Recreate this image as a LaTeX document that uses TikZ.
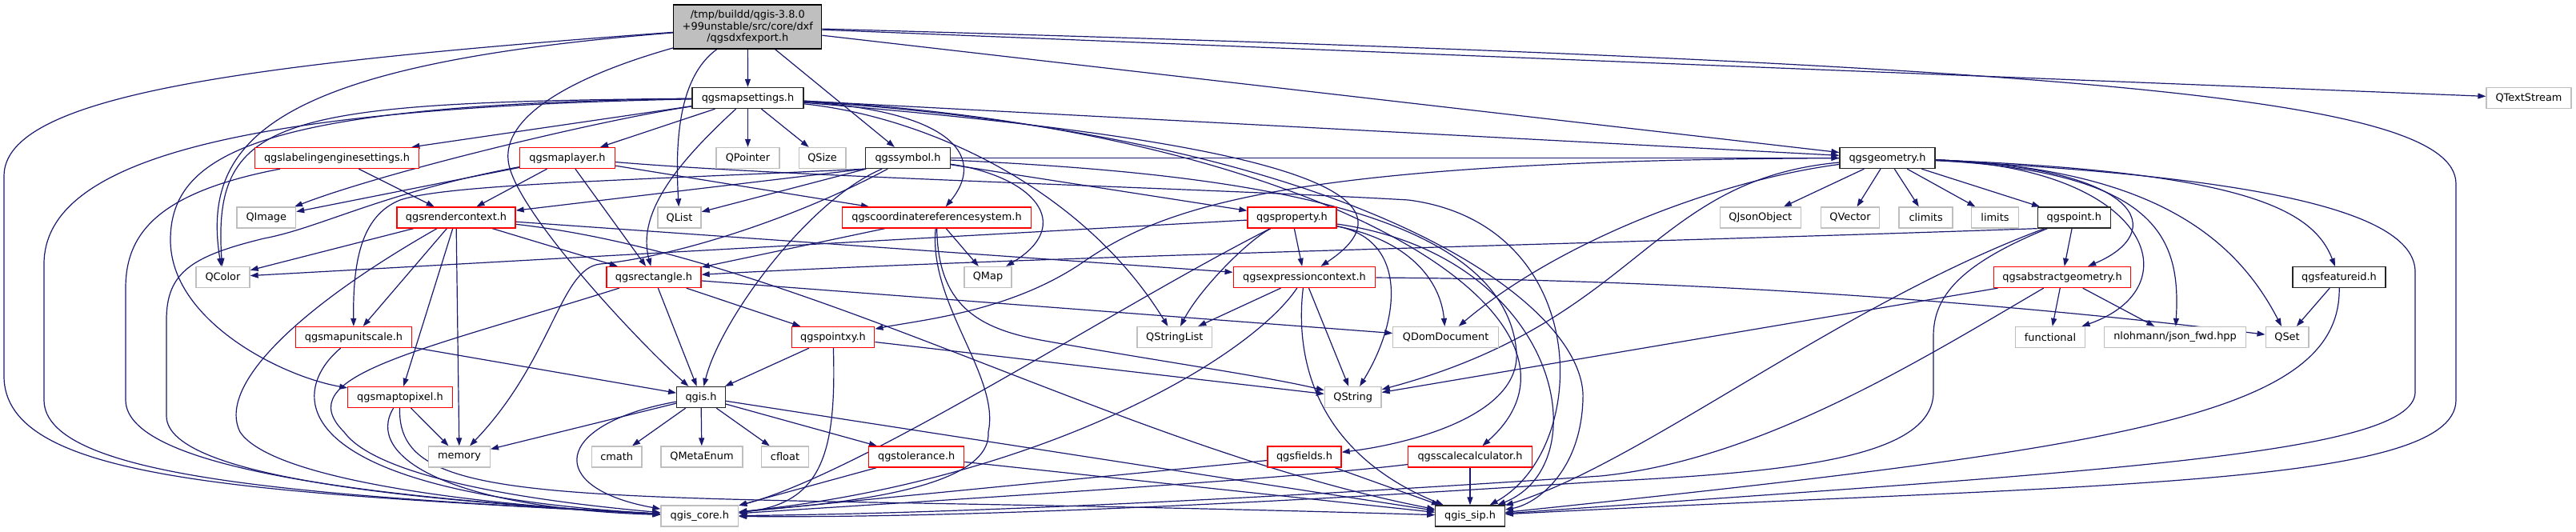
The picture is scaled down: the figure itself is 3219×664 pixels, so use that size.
\documentclass[tikz,border=0pt]{standalone}
\usepackage{fontspec}
\setmainfont{DejaVu Sans}
\usepackage{xcolor}
\definecolor{depblue}{HTML}{191970}
\definecolor{truncred}{HTML}{FF0000}
\definecolor{extgray}{HTML}{BFBFBF}
\usepackage{tikz}
\usetikzlibrary{arrows.meta,backgrounds}

\begin{document}
\begin{tikzpicture}[x=1pt, y=-1pt,
                   hdr/.style={draw, fill=white, line width=1.3pt, inner sep=0pt, minimum height=26pt,
                               font=\fontsize{12.9}{14.5}\selectfont, align=center},
                   root/.style={hdr, fill=extgray, draw=black, minimum height=55pt},
                   doc/.style={hdr, draw=black!85},
                   trunc/.style={hdr, draw=truncred},
                   ext/.style={hdr, draw=extgray},
                   dep/.style={draw=depblue, line width=1.2pt, -{Triangle[length=10pt, width=7pt]}}]
    \useasboundingbox (0,0) rectangle (3219,664);
    \node[root, minimum width=185pt] (dxf) at (934.3,33.5) {/tmp/buildd/qgis-3.8.0\\+99unstable/src/core/dxf\\/qgsdxfexport.h};
    \node[doc, minimum width=139pt] (mapset) at (934.5,122.5) {qgsmapsettings.h};
    \node[ext, minimum width=106pt] (textstream) at (3160,122.5) {QTextStream};
    \node[trunc, minimum width=205pt] (labeling) at (421,197.5) {qgslabelingenginesettings.h};
    \node[trunc, minimum width=119pt] (maplayer) at (709,197.5) {qgsmaplayer.h};
    \node[ext, minimum width=79pt] (qpointer) at (934.5,197.5) {QPointer};
    \node[ext, minimum width=58.6pt] (qsize) at (1027.6,197.5) {QSize};
    \node[doc, minimum width=105.7pt] (symbol) at (1134.5,197.5) {qgssymbol.h};
    \node[doc, minimum width=119pt] (geometry) at (2358.5,197.5) {qgsgeometry.h};
    \node[ext, minimum width=73.5pt] (qimage) at (332.8,272) {QImage};
    \node[trunc, minimum width=148pt] (rendctx) at (570,272) {qgsrendercontext.h};
    \node[ext, minimum width=54pt] (qlist) at (849,272) {QList};
    \node[trunc, minimum width=235.6pt] (crs) at (1170.5,272) {qgscoordinatereferencesystem.h};
    \node[trunc, minimum width=111pt] (property) at (1614.5,272) {qgsproperty.h};
    \node[ext, minimum width=101pt] (qjson) at (2199.8,272) {QJsonObject};
    \node[ext, minimum width=73.4pt] (qvector) at (2312,272) {QVector};
    \node[ext, minimum width=67pt] (climits) at (2406.6,272) {climits};
    \node[ext, minimum width=58.5pt] (limits) at (2493,272) {limits};
    \node[doc, minimum width=91pt] (point) at (2591.8,272) {qgspoint.h};
    \node[ext, minimum width=67pt] (qcolor) at (278.5,346.5) {QColor};
    \node[trunc, minimum width=118pt] (rect) at (817,346.5) {qgsrectangle.h};
    \node[ext, minimum width=59pt] (qmap) at (1234.5,346.5) {QMap};
    \node[trunc, minimum width=177.6pt] (exprctx) at (1630,346.5) {qgsexpressioncontext.h};
    \node[trunc, minimum width=171.5pt] (absgeom) at (2577,346.5) {qgsabstractgeometry.h};
    \node[doc, minimum width=116pt] (featid) at (2923,346.5) {qgsfeatureid.h};
    \node[trunc, minimum width=145.5pt] (unitscale) at (442,421.5) {qgsmapunitscale.h};
    \node[trunc, minimum width=103.6pt] (pointxy) at (1041,421.5) {qgspointxy.h};
    \node[ext, minimum width=93.5pt] (qstringlist) at (1467.8,421.5) {QStringList};
    \node[ext, minimum width=131.6pt] (qdomdoc) at (1806.6,421.5) {QDomDocument};
    \node[ext, minimum width=86.7pt] (functional) at (2562,421.5) {functional};
    \node[ext, minimum width=177.4pt] (nlohmann) at (2718,421.5) {nlohmann/json\_fwd.hpp};
    \node[ext, minimum width=53.7pt] (qset) at (2858,421.5) {QSet};
    \node[trunc, minimum width=130.4pt] (maptopixel) at (500,496.5) {qgsmaptopixel.h};
    \node[doc, minimum width=60.6pt] (qgis) at (876,496.5) {qgis.h};
    \node[ext, minimum width=70.6pt] (qstring) at (1690.7,496.5) {QString};
    \node[ext, minimum width=76.7pt] (memory) at (574,571) {memory};
    \node[ext, minimum width=62.6pt] (cmath) at (770.7,571) {cmath};
    \node[ext, minimum width=102pt] (qmetaenum) at (877,571) {QMetaEnum};
    \node[ext, minimum width=59pt] (cfloat) at (981,571) {cfloat};
    \node[trunc, minimum width=118.8pt] (tolerance) at (1145.2,571) {qgstolerance.h};
    \node[trunc, minimum width=92pt] (fields) at (1630,571) {qgsfields.h};
    \node[trunc, minimum width=154.6pt] (scalecalc) at (1837,571) {qgsscalecalculator.h};
    \node[ext, minimum width=96.6pt] (core) at (874.3,645) {qgis\_core.h};
    \node[doc, minimum width=86.4pt] (sip) at (1837,645) {qgis\_sip.h};
    \begin{pgfonlayer}{background}
    \draw[dep] (dxf) -- (mapset);
    \draw[dep] (dxf) .. controls (850,95) and (843,170) .. (qlist);
    \draw[dep] (dxf) -- (symbol);
    \draw[dep] (dxf) -- (geometry);
    \draw[dep] (dxf) -- (textstream);
    \draw[dep] (dxf) .. controls (2600,80) and (3069,120) .. (3069,230) -- (3069,500) .. controls (3069,610) and (2600,605) .. (sip);
    \draw[dep] (dxf) .. controls (300,80) and (5,120) .. (5,220) -- (5,470) .. controls (5,600) and (300,615) .. (core);
    \draw[dep] (dxf) .. controls (350,80) and (250,170) .. (qcolor);
    \draw[dep] (dxf) .. controls (700,100) and (630,150) .. (635,200) .. controls (640,260) and (800,430) .. (qgis);
    \draw[dep] (mapset) -- (qpointer);
    \draw[dep] (mapset) -- (qsize);
    \draw[dep] (mapset) -- (maplayer);
    \draw[dep] (mapset) -- (labeling);
    \draw[dep] (mapset) -- (geometry);
    \draw[dep] (mapset) .. controls (750,150) and (480,215) .. (qimage);
    \draw[dep] (mapset) .. controls (850,200) and (795,265) .. (rect);
    \draw[dep] (mapset) .. controls (350,128) and (265,145) .. (qcolor);
    \draw[dep] (mapset) .. controls (330,130) and (213,190) .. (213,300) .. controls (213,400) and (350,470) .. (maptopixel);
    \draw[dep] (mapset) .. controls (300,135) and (55,200) .. (55,330) -- (55,500) .. controls (55,600) and (400,620) .. (core);
    \draw[dep] (mapset) .. controls (1200,140) and (1230,200) .. (crs);
    \draw[dep] (mapset) .. controls (1150,145) and (1350,230) .. (qstringlist);
    \draw[dep] (mapset) .. controls (1450,165) and (1820,220) .. (exprctx);
    \draw[dep] (mapset) .. controls (1650,160) and (2030,400) .. (scalecalc);
    \draw[dep] (mapset) .. controls (1700,170) and (1985,380) .. (1978,500) .. controls (1975,590) and (1920,630) .. (sip);
    \draw[dep] (labeling) -- (rendctx);
    \draw[dep] (labeling) .. controls (200,240) and (157,290) .. (157,360) -- (157,500) .. controls (157,590) and (500,625) .. (core);
    \draw[dep] (maplayer) -- (rendctx);
    \draw[dep] (maplayer) -- (rect);
    \draw[dep] (maplayer) -- (crs);
    \draw[dep] (maplayer) -- (qimage);
    \draw[dep] (maplayer) .. controls (480,240) and (400,285) .. (330,298) .. controls (240,320) and (208,340) .. (208,400) -- (208,520) .. controls (208,600) and (550,628) .. (core);
    \draw[dep] (maplayer) .. controls (1000,222) and (1500,235) .. (1760,250) .. controls (1990,280) and (1990,560) .. (sip);
    \draw[dep] (symbol) -- (qlist);
    \draw[dep] (symbol.south west) -- (rendctx);
    \draw[dep] (symbol) -- (property);
    \draw[dep] (symbol) -- (geometry);
    \draw[dep] (symbol) .. controls (1290,220) and (1345,280) .. (qmap);
    \draw[dep] (symbol.south west) .. controls (800,225) and (560,230) .. (500,250) .. controls (450,270) and (441,330) .. (unitscale);
    \draw[dep] (symbol) .. controls (1010,250) and (900,400) .. (qgis);
    \draw[dep] (symbol) .. controls (1000,270) and (850,320) .. (750,330) .. controls (700,335) and (690,450) .. (memory);
    \draw[dep] (symbol) .. controls (1500,215) and (1880,250) .. (1895,440) .. controls (1900,520) and (1760,555) .. (fields);
    \draw[dep] (rendctx) -- (qcolor);
    \draw[dep] (rendctx) -- (unitscale);
    \draw[dep] (rendctx) -- (maptopixel);
    \draw[dep] (rendctx) -- (memory);
    \draw[dep] (rendctx) -- (rect);
    \draw[dep] (rendctx) -- (exprctx);
    \draw[dep] (rendctx) .. controls (380,380) and (270,480) .. (300,540) .. controls (340,600) and (600,632) .. (core);
    \draw[dep] (rendctx) .. controls (1000,320) and (1400,560) .. (sip);
    \draw[dep] (unitscale) -- (qgis);
    \draw[dep] (unitscale) .. controls (360,490) and (350,615) .. (core);
    \draw[dep] (maptopixel) -- (memory);
    \draw[dep] (maptopixel) .. controls (455,570) and (560,635) .. (core);
    \draw[dep] (maptopixel) .. controls (495,650) and (750,612) .. (sip);
    \draw[dep] (crs) -- (qmap);
    \draw[dep] (crs) -- (rect);
    \draw[dep] (crs) .. controls (1172,380) and (1220,410) .. (1300,425) .. controls (1450,452) and (1580,470) .. (qstring);
    \draw[dep] (crs) .. controls (1160,380) and (1250,470) .. (1235,540) .. controls (1240,620) and (1000,632) .. (core);
    \draw[dep] (property) -- (qcolor);
    \draw[dep] (property) -- (exprctx);
    \draw[dep] (property) .. controls (1560,300) and (1500,360) .. (qstringlist);
    \draw[dep] (property) .. controls (1760,300) and (1800,350) .. (qdomdoc);
    \draw[dep] (property) .. controls (1760,300) and (1750,400) .. (qstring);
    \draw[dep] (property) .. controls (1950,320) and (2000,580) .. (sip);
    \draw[dep] (property) .. controls (1400,380) and (1080,590) .. (core);
    \draw[dep] (rect) -- (qgis);
    \draw[dep] (rect) -- (pointxy);
    \draw[dep] (rect) -- (qdomdoc);
    \draw[dep] (rect) .. controls (520,440) and (360,470) .. (430,540) .. controls (470,595) and (650,625) .. (core);
    \draw[dep] (exprctx) -- (qstringlist);
    \draw[dep] (exprctx) -- (qstring);
    \draw[dep] (exprctx) .. controls (2200,350) and (2600,390) .. (qset);
    \draw[dep] (exprctx) .. controls (1620,430) and (1630,560) .. (sip);
    \draw[dep] (exprctx) .. controls (1560,450) and (1300,600) .. (core);
    \draw[dep] (pointxy) -- (qgis);
    \draw[dep] (pointxy) -- (qstring);
    \draw[dep] (pointxy) .. controls (1045,560) and (1030,630) .. (core);
    \draw[dep] (qgis) -- (memory);
    \draw[dep] (qgis) -- (cmath);
    \draw[dep] (qgis) -- (qmetaenum);
    \draw[dep] (qgis) -- (cfloat);
    \draw[dep] (qgis) -- (tolerance);
    \draw[dep] (qgis) -- (sip);
    \draw[dep] (qgis) .. controls (690,530) and (680,610) .. (core);
    \draw[dep] (tolerance) -- (core);
    \draw[dep] (tolerance) -- (sip);
    \draw[dep] (fields) -- (core);
    \draw[dep] (fields) -- (sip);
    \draw[dep] (scalecalc) -- (sip);
    \draw[dep] (scalecalc) .. controls (1600,600) and (1100,630) .. (core);
    \draw[dep] (geometry) -- (qjson);
    \draw[dep] (geometry) -- (qvector);
    \draw[dep] (geometry) -- (climits);
    \draw[dep] (geometry) -- (limits);
    \draw[dep] (geometry) -- (point);
    \draw[dep] (geometry) .. controls (2680,210) and (2710,290) .. (absgeom);
    \draw[dep] (geometry) .. controls (2690,210) and (2740,360) .. (functional);
    \draw[dep] (geometry) .. controls (2700,215) and (2725,300) .. (nlohmann);
    \draw[dep] (geometry) .. controls (2680,210) and (2790,290) .. (qset);
    \draw[dep] (geometry) .. controls (2800,215) and (2890,260) .. (featid);
    \draw[dep] (geometry) .. controls (2800,220) and (3018,260) .. (3018,340) -- (3018,490) .. controls (3018,570) and (2600,590) .. (sip);
    \draw[dep] (geometry) .. controls (2150,225) and (1950,300) .. (qdomdoc);
    \draw[dep] (geometry) .. controls (2060,225) and (2050,400) .. (qstring);
    \draw[dep] (geometry) .. controls (1600,200) and (1450,260) .. (1350,330) .. controls (1260,390) and (1150,400) .. (pointxy);
    \draw[dep] (point) -- (absgeom);
    \draw[dep] (point.south west) .. controls (2000,305) and (1300,320) .. (rect);
    \draw[dep] (point) .. controls (2300,380) and (2050,580) .. (sip);
    \draw[dep] (point) .. controls (2450,330) and (2416,370) .. (2416,420) -- (2416,490) .. controls (2416,570) and (2250,590) .. (2000,602) .. controls (1600,628) and (1200,648) .. (core);
    \draw[dep] (featid) -- (qset);
    \draw[dep] (featid) .. controls (2925,520) and (2650,560) .. (sip);
    \draw[dep] (absgeom) -- (functional);
    \draw[dep] (absgeom) -- (nlohmann);
    \draw[dep] (absgeom) -- (qstring);
    \draw[dep] (absgeom) .. controls (2400,450) and (2200,575) .. (2000,595) .. controls (1600,622) and (1200,642) .. (core);
    \end{pgfonlayer}
\end{tikzpicture}
\end{document}
